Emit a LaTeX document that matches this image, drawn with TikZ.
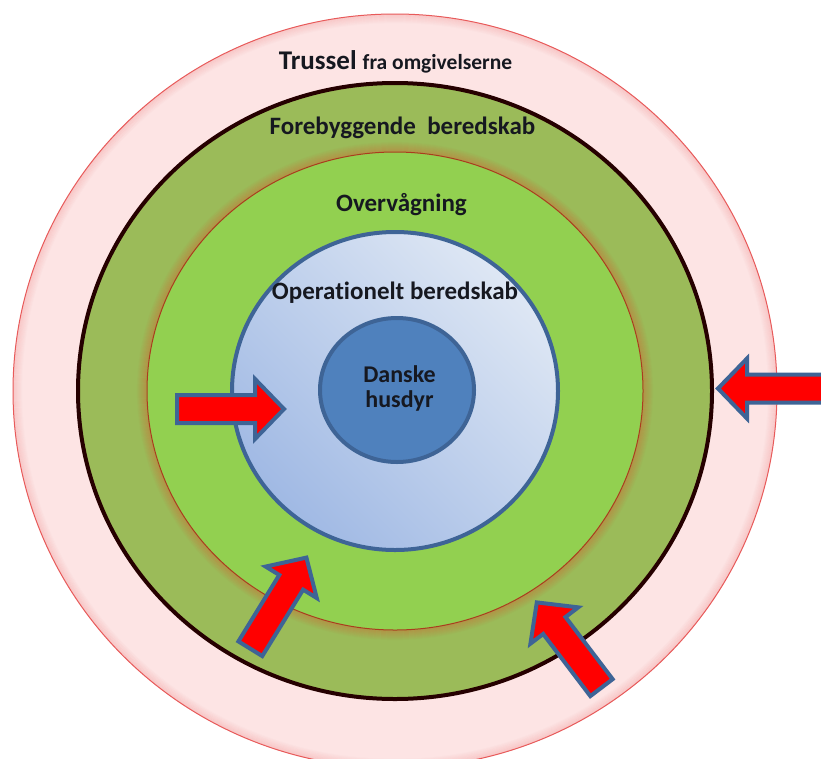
\documentclass[tikz,border=0pt]{standalone}
\usepackage{fontspec}
\setmainfont{Carlito}[Ligatures=NoCommon]

\definecolor{ringpink}{RGB}{253,228,228}
\definecolor{pinkedge}{RGB}{232,90,90}
\definecolor{olive}{RGB}{155,187,89}
\definecolor{leaf}{RGB}{146,208,80}
\definecolor{rust}{RGB}{170,60,30}
\definecolor{glow}{RGB}{215,85,40}
\definecolor{paleblue}{RGB}{222,231,244}
\definecolor{midblue}{RGB}{160,185,228}
\definecolor{coreblue}{RGB}{79,129,189}
\definecolor{edgeblue}{RGB}{62,100,150}
\definecolor{inkdark}{RGB}{22,24,32}

\tikzset{
  ringlabel/.style={font=\bfseries\fontsize{25}{30}\selectfont, text=inkdark, inner sep=0pt, anchor=base},
  arrowbody/.style={fill=red, draw=edgeblue, line width=4pt, line join=miter},
  blockarrow/.pic={
    \path[arrowbody] (0,0) -- (-29,30) -- (-29,14) -- (-107,14)
      -- (-107,-14) -- (-29,-14) -- (-29,-30) -- cycle;
  }
}

\begin{document}
\begin{tikzpicture}[x=1pt,y=-1pt]
\useasboundingbox (0,0) rectangle (821,758);
\clip (0,0) rectangle (821,758);
\fill[white] (0,0) rectangle (821,758);
\coordinate (C) at (395,391);

% outer ring: threat from the surroundings, with a soft red rim
\fill[ringpink] (C) ellipse [x radius=382pt, y radius=377pt];
\foreach \k in {0,1,...,8}
  \draw[pinkedge, opacity={0.16*(1-\k/9)}, line width=1.2pt]
    (C) ellipse [x radius={(381.5-\k)*1pt}, y radius={(376.5-\k)*1pt}];
\draw[pinkedge, line width=1pt] (C) ellipse [x radius=382pt, y radius=377pt];

% preventive preparedness ring
\fill[olive] (C) ellipse [x radius=317pt, y radius=308pt];
\draw[black!85!red, line width=4pt] (C) ellipse [x radius=317pt, y radius=308pt];

% soft glow round the surveillance disc
\foreach \k in {0,1,...,9}
  \draw[glow, opacity={0.3*(1-\k/10)}, line width=1.2pt]
    (C) ellipse [x radius={(248.5+\k)*1pt}, y radius={(239.5+\k)*1pt}];

% surveillance disc
\fill[leaf] (C) ellipse [x radius=248pt, y radius=239pt];
\draw[rust, line width=1pt] (C) ellipse [x radius=248pt, y radius=239pt];

% operational preparedness disc
\shade[top color=paleblue, bottom color=midblue, shading angle=-45]
  (C) ellipse [x radius=163pt, y radius=159pt];
\draw[edgeblue, line width=4pt] (C) ellipse [x radius=163pt, y radius=159pt];

% core
\fill[coreblue] (397,390) ellipse [x radius=77pt, y radius=72pt];
\draw[edgeblue, line width=4pt] (397,390) ellipse [x radius=77pt, y radius=72pt];

% labels
\node[ringlabel] (threat) at (395.5,69.3)
  {\fontsize{27}{30}\selectfont Trussel \fontsize{21.5}{26}\selectfont fra omgivelserne};
\node[ringlabel] (prevent) at (402.5,134.3) {Forebyggende\ \ beredskab};
\node[ringlabel] (monitor) at (401.5,211.7) {Overvågning};
\node[ringlabel] (operate) at (395,299.3) {Operationelt beredskab};
\node[ringlabel, anchor=center, align=center, font=\bfseries\fontsize{24}{25}\selectfont]
  (core) at (399.5,388.5) {Danske\\husdyr};

% incoming threat arrows
\path (284,409) pic {blockarrow};
\path (718,388.5) pic[rotate=180] {blockarrow};
\path (306.4,557.6) pic[rotate=58.4] {blockarrow};
\path (536.8,602.4) pic[rotate=127.2] {blockarrow};
\end{tikzpicture}
\end{document}
